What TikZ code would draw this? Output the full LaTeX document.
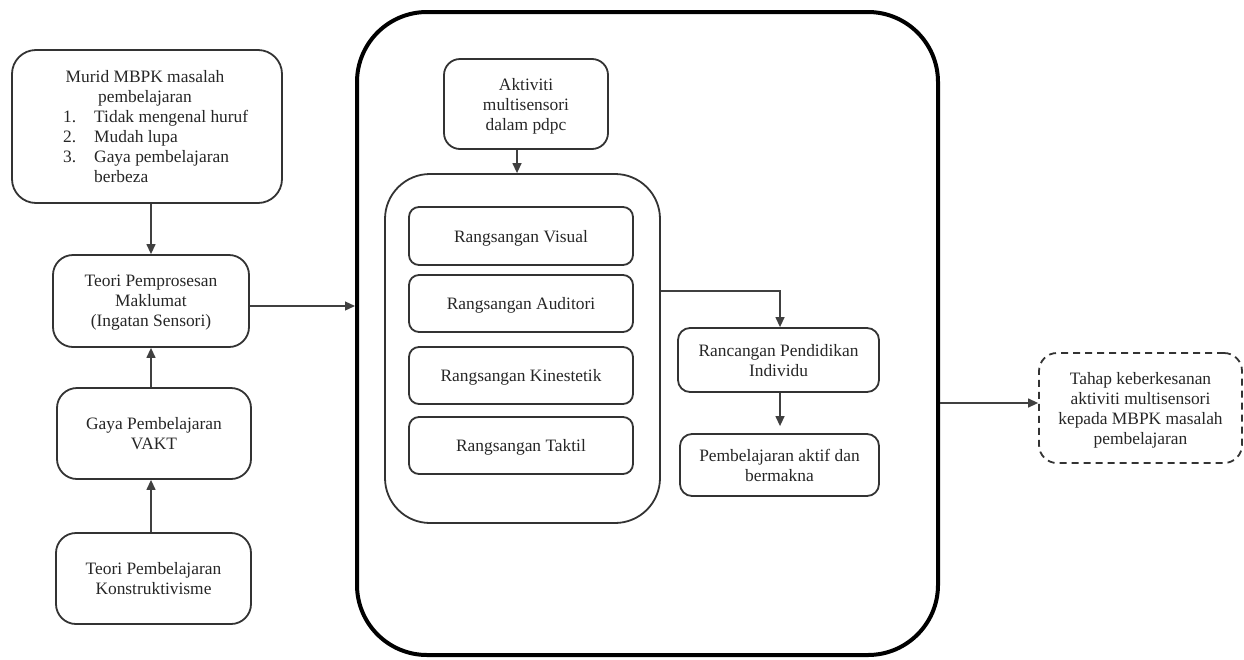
\documentclass[tikz,border=0pt]{standalone}
\usepackage{fontspec}
\setmainfont{Liberation Serif}
\usetikzlibrary{arrows.meta,calc}
\begin{document}
\begin{tikzpicture}[x=1pt,y=-1pt,
  every node/.style={font=\fontsize{17.4}{20}\selectfont, text=black!85, inner sep=0pt},
  box/.style={draw=black!80, line width=1.8pt, rounded corners=#1, align=center, text depth=0pt},
  box/.default=14pt,
  bigbox/.style={draw=black, line width=4pt, rounded corners=70pt},
  dbox/.style={draw=black!80, line width=1.8pt, rounded corners=18pt, align=center, text depth=0pt, dash pattern=on 7pt off 5pt},
  arr/.style={draw=black!75, line width=1.3pt, -{Triangle[length=10pt,width=9pt]}},
  lbl/.style={anchor=base},
  lblw/.style={anchor=base west}]
\useasboundingbox (0,0) rectangle (1244,659);

% left column
\node[box=24pt, minimum width=270pt, minimum height=153pt] (murid) at (147,126.5) {};
\node[lbl] (m1) at (145,82) {Murid MBPK masalah};
\node[lbl] (m2) at (145,102) {pembelajaran};
\node[lblw] (n1) at (63,122) {1.};
\node[lblw] (t1) at (94,122) {Tidak mengenal huruf};
\node[lblw] (n2) at (63,142) {2.};
\node[lblw] (t2) at (94,142) {Mudah lupa};
\node[lblw] (n3) at (63,162) {3.};
\node[lblw] (t3) at (94,162) {Gaya pembelajaran};
\node[lblw] (t4) at (94,182) {berbeza};

\node[box=20pt, minimum width=196pt, minimum height=92pt] (pem) at (151,301) {Teori Pemprosesan\\Maklumat\\(Ingatan Sensori)};
\node[box=20pt, minimum width=194pt, minimum height=91pt] (gaya) at (154,433.5) {Gaya Pembelajaran\\VAKT};
\node[box=20pt, minimum width=195pt, minimum height=91pt] (kon) at (153.5,578.5) {Teori Pembelajaran\\Konstruktivisme};

% big box
\node[bigbox, minimum width=581pt, minimum height=643pt] (big) at (647.5,333.5) {};

\node[box=16pt, minimum width=164pt, minimum height=90pt] (akt) at (526,104) {Aktiviti\\multisensori\\dalam pdpc};
\node[box=45pt, minimum width=275pt, minimum height=349pt] (inner) at (522.5,348.5) {};
\node[box=10pt, minimum width=224pt, minimum height=58pt] (vis) at (521,236) {Rangsangan Visual};
\node[box=10pt, minimum width=224pt, minimum height=57pt] (aud) at (521,303.5) {Rangsangan Auditori};
\node[box=10pt, minimum width=224pt, minimum height=57pt] (kin) at (521,375.5) {Rangsangan Kinestetik};
\node[box=10pt, minimum width=224pt, minimum height=57pt] (tak) at (521,445.5) {Rangsangan Taktil};

\node[box=12pt, minimum width=201pt, minimum height=64pt] (ranc) at (778.5,360) {Rancangan Pendidikan\\Individu};
\node[box=12pt, minimum width=199pt, minimum height=62pt] (pakt) at (779.5,465) {Pembelajaran aktif dan\\bermakna};

% right dashed box
\node[dbox, minimum width=203pt, minimum height=110pt] (tahap) at (1140.5,408) {Tahap keberkesanan\\aktiviti multisensori\\kepada MBPK masalah\\pembelajaran};

% connectors
\draw[arr] (murid.south -| pem.north) -- (pem.north);
\draw[arr] (gaya.north -| pem.south) -- (pem.south);
\draw[arr] (kon.north -| pem.south) -- (gaya.south -| pem.south);
\coordinate (pemy) at (300,306);
\draw[arr] (pem.east |- pemy) -- (big.west |- pemy);
\draw[arr] ([xshift=-9pt]akt.south) -- ([xshift=-9pt]akt.south |- inner.north);
\coordinate (jn) at (780,291);
\draw[arr] (inner.east |- jn) -| (ranc.north -| jn);
\draw[arr, shorten >=7pt] (ranc.south -| jn) -- (pakt.north -| jn);
\coordinate (by) at (990,403);
\draw[arr] (big.east |- by) -- (tahap.west |- by);
\end{tikzpicture}
\end{document}
